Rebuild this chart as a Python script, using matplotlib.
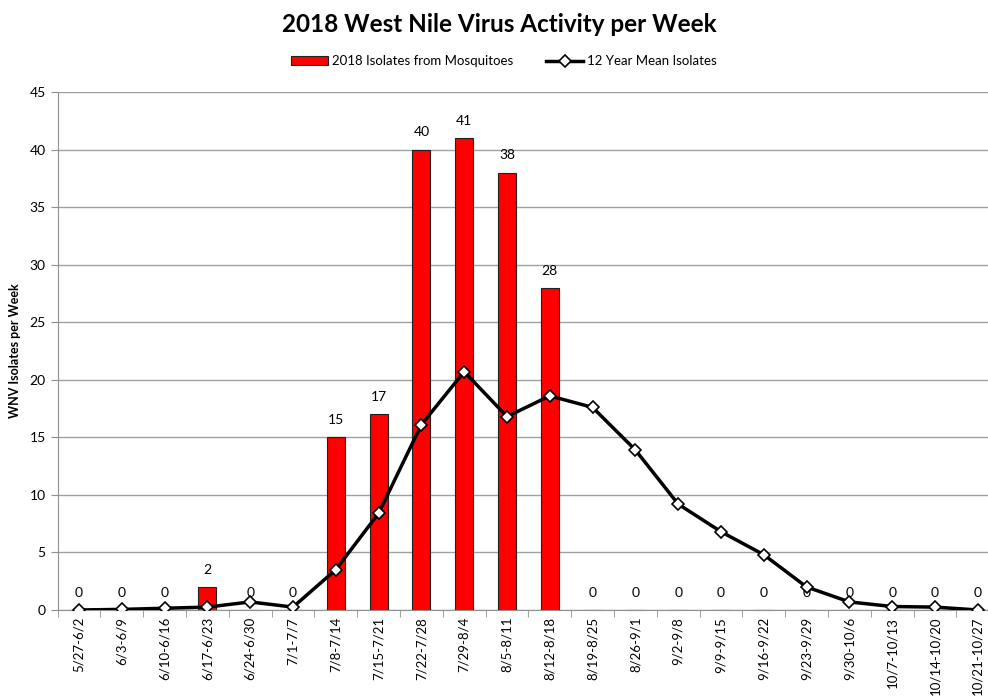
import matplotlib.pyplot as plt
import numpy as np

weeks = ["5/27-6/2", "6/3-6/9", "6/10-6/16", "6/17-6/23", "6/24-6/30", "7/1-7/7",
         "7/8-7/14", "7/15-7/21", "7/22-7/28", "7/29-8/4", "8/5-8/11", "8/12-8/18",
         "8/19-8/25", "8/26-9/1", "9/2-9/8", "9/9-9/15", "9/16-9/22", "9/23-9/29",
         "9/30-10/6", "10/7-10/13", "10/14-10/20", "10/21-10/27"]
isolates_2018 = [0, 0, 0, 2, 0, 0, 15, 17, 40, 41, 38, 28, 0, 0, 0, 0, 0, 0, 0, 0, 0, 0]
mean_12yr = [0, 0.05, 0.15, 0.25, 0.7, 0.25, 3.5, 8.4, 16.1, 20.7, 16.8, 18.6,
             17.6, 13.9, 9.2, 6.8, 4.8, 2.0, 0.7, 0.3, 0.25, 0]

plt.rcParams['font.family'] = ['Lato', 'DejaVu Sans']

fig = plt.figure(figsize=(9.88, 6.96), dpi=100)
ax = fig.add_axes([0.0583, 0.1236, 0.953, 0.7442])

x = np.arange(len(weeks))
bars = ax.bar(x, isolates_2018, width=0.42, color="#ff0000", edgecolor="#202020",
              linewidth=0.8, zorder=2, label="2018 Isolates from Mosquitoes")
line, = ax.plot(x, mean_12yr, color="black", lw=2.5, marker="D", markersize=6,
                markerfacecolor="white", markeredgecolor="black", markeredgewidth=1.2,
                zorder=3, label="12 Year Mean Isolates")

for xi, v in zip(x, isolates_2018):
    ax.annotate(str(v), (xi, v), xytext=(0, 8), textcoords="offset points",
                ha="center", va="bottom", fontsize=10, zorder=1)

ax.set_xlim(-0.5, len(weeks) - 0.5)
ax.set_ylim(0, 45)
ax.set_yticks(range(0, 46, 5))
ax.yaxis.grid(True, color="#a0a0a0", lw=1)
ax.set_axisbelow(True)

ax.set_xticks(x)
ax.set_xticklabels(weeks, rotation=90, fontsize=9.5)
ax.tick_params(axis="x", length=0, pad=5)
ax.set_xticks(np.arange(-0.5, len(weeks), 1), minor=True)
ax.tick_params(axis="x", which="minor", length=5, color="#909090")
ax.tick_params(axis="y", labelsize=10, length=5, color="#909090")

for s in ["top", "right"]:
    ax.spines[s].set_visible(False)
ax.spines["left"].set_color("#909090")
ax.spines["bottom"].set_color("#909090")

ax.set_ylabel("WNV Isolates per Week", fontsize=9, fontweight="bold", labelpad=6)

fig.text(0.505, 0.965, "2018 West Nile Virus Activity per Week", ha="center", va="center",
         fontsize=17.5, fontweight="bold")
fig.legend(handles=[bars, line], loc="center", bbox_to_anchor=(0.51, 0.912), ncol=2,
           frameon=False, fontsize=9.5, handlelength=2.8, columnspacing=2.5,
           handletextpad=0.3)

fig.savefig("out.png", dpi=100)
